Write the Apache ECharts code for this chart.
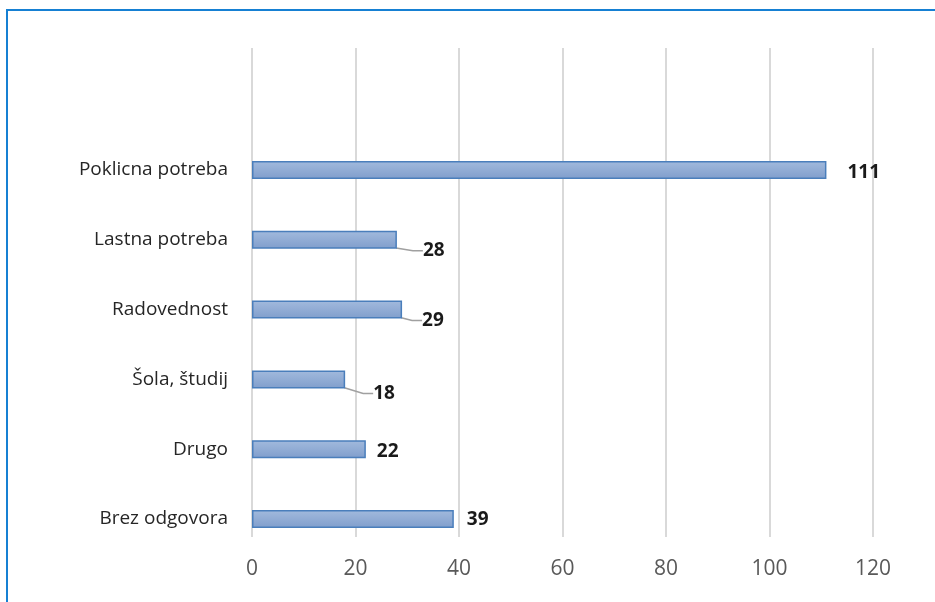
<!DOCTYPE html>
<html>
<head>
<meta charset="utf-8">
<script src="https://cdn.jsdelivr.net/npm/echarts@6/dist/echarts.min.js"></script>
<style>
html,body{margin:0;padding:0;background:#fff;}
#chart{width:935px;height:602px;}
</style>
</head>
<body>
<div id="chart"></div>
<script>
// Data
const categories = ['Poklicna potreba', 'Lastna potreba', 'Radovednost', 'Šola, študij', 'Drugo', 'Brez odgovora'];
const values = [111, 28, 29, 18, 22, 39];
const xTicks = [0, 20, 40, 60, 80, 100, 120];

// Label placement (styling, not data): [dx, dy, showGuideLine]
const labelOffsets = [[7, 3, false], [12, 11, true], [6, 11, true], [14, 14, true], [-3, 2, false], [-1, 1, false]];

const chart = echarts.init(document.getElementById('chart'), null, {renderer: 'canvas'});

const barData = values.map((v, i) => ({
  value: v,
  labelLine: {show: labelOffsets[i][2]}
}));

const option = {
  animation: false,
  backgroundColor: '#ffffff',
  graphic: [{
    type: 'rect',
    shape: {x: 7, y: 10, width: 1000, height: 1000},
    style: {fill: 'none', stroke: '#1680d3', lineWidth: 2},
    silent: true
  }],
  grid: [
    {left: 252, right: 62, top: 135, bottom: 48},
    {left: 252, right: 62, top: 48, bottom: 65}
  ],
  xAxis: [
    {gridIndex: 0, type: 'value', min: xTicks[0], max: xTicks[xTicks.length - 1], interval: 20, show: false},
    {
      gridIndex: 1, type: 'value', min: xTicks[0], max: xTicks[xTicks.length - 1], interval: 20,
      axisLine: {show: false}, axisTick: {show: false},
      splitLine: {show: true, lineStyle: {color: '#d9d9d9', width: 2}},
      axisLabel: {color: '#595959', fontSize: 21, fontFamily: 'Open Sans', margin: 22}
    }
  ],
  yAxis: [
    {
      gridIndex: 0, type: 'category', data: categories, inverse: true,
      axisLine: {show: false}, axisTick: {show: false},
      axisLabel: {color: '#262626', fontSize: 19, fontFamily: 'Open Sans', margin: 24}
    },
    {gridIndex: 1, type: 'value', show: false, min: 0, max: 1}
  ],
  series: [{
    type: 'bar',
    xAxisIndex: 0, yAxisIndex: 0,
    data: barData,
    barWidth: 18,
    itemStyle: {
      color: new echarts.graphic.LinearGradient(0, 0, 0, 1, [
        {offset: 0, color: '#a2badd'},
        {offset: 1, color: '#809ecc'}
      ]),
      borderColor: '#4a7ebb',
      borderWidth: 1.5
    },
    label: {
      show: true,
      position: 'right',
      distance: 4,
      padding: [0, 2, 0, 10],
      color: '#1a1a1a',
      fontSize: 19,
      fontWeight: 'bold',
      fontFamily: 'Open Sans'
    },
    labelLine: {
      show: true,
      length2: 10,
      lineStyle: {color: '#a0a0a0', width: 1.5}
    },
    labelLayout: function (params) {
      const o = labelOffsets[params.dataIndex];
      return {dx: o[0], dy: o[1]};
    }
  }]
};
chart.setOption(option);
</script>
</body>
</html>
